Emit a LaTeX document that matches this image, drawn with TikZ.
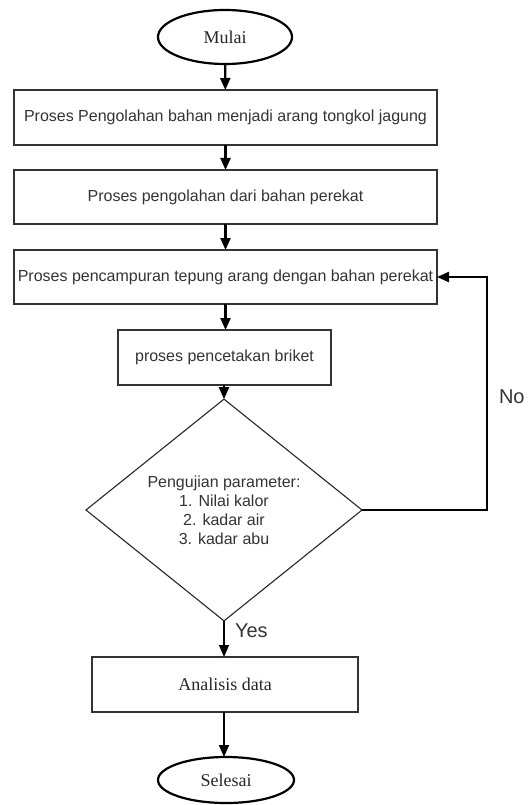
\documentclass[tikz,border=0pt]{standalone}
\usepackage{fontspec}
\setmainfont{Liberation Serif}
\newfontfamily\arialf{Liberation Sans}
\usetikzlibrary{shapes.geometric,arrows.meta}
\begin{document}
\begin{tikzpicture}[x=1pt,y=-1pt,
  every node/.style={inner sep=0pt, outer sep=0pt},
  terminal/.style={draw, ellipse, line width=2.2pt, minimum width=134pt, font=\fontsize{18}{21}\selectfont, text=black!85},
  procbox/.style={draw, rectangle, line width=2.6pt, draw=black!80, font=\arialf\fontsize{16}{19}\selectfont, text=black!80},
  serifbox/.style={draw, rectangle, line width=2.6pt, draw=black!80, font=\fontsize{18}{21}\selectfont, text=black!85},
  decision/.style={draw, diamond, line width=1.1pt, draw=black!85, minimum width=276pt, minimum height=200pt, align=center, font=\arialf\fontsize{16}{19}\selectfont, text=black!80},
  flow/.style={-{Triangle[length=12pt,width=10pt]}, line width=2.3pt},
  thinflow/.style={-{Triangle[length=12pt,width=10pt]}, line width=1.5pt},
  lbl/.style={font=\arialf\fontsize{20}{24}\selectfont, text=black!80}
]
\useasboundingbox (0,0) rectangle (527,805);
\node[terminal, minimum height=54pt] (mulai) at (225,37) {Mulai};
\node[procbox, minimum width=423pt, minimum height=55pt] (b1) at (225.5,117.5) {Proses Pengolahan bahan menjadi arang tongkol jagung};
\node[procbox, minimum width=423pt, minimum height=54pt] (b2) at (225.5,197) {Proses pengolahan dari bahan perekat};
\node[procbox, minimum width=423pt, minimum height=54pt] (b3) at (225.5,277) {Proses pencampuran tepung arang dengan bahan perekat};
\node[procbox, minimum width=213pt, minimum height=55pt] (b4) at (224.5,357.5) {proses pencetakan briket};
\node[decision] (d) at (224,510) {Pengujian parameter:\\1. Nilai kalor\\2. kadar air\\3. kadar abu};
\node[serifbox, minimum width=266pt, minimum height=55pt] (an) at (225,684.5) {Analisis data};
\node[terminal, minimum height=46pt, minimum width=136pt] (sel) at (226,780) {Selesai};
\coordinate (fb) at (487,277);
\draw[flow] (mulai) -- (b1);
\draw[flow] (b1) -- (b2);
\draw[flow] (b2) -- (b3);
\draw[flow] (b3) -- (b4.north -| b3.south);
\draw[flow] (b4.south -| d.north) -- (d.north);
\draw[thinflow] (d.south) -- (an.north -| d.south);
\draw[thinflow] (an.south -| d.south) -- (sel.north -| d.south);
\draw[flow] (d.east) -| (fb) -- (b3.east);
\node[lbl, anchor=west] (yes) at (235,631) {Yes};
\node[lbl, anchor=west] (no) at (499,397) {No};
\end{tikzpicture}
\end{document}
